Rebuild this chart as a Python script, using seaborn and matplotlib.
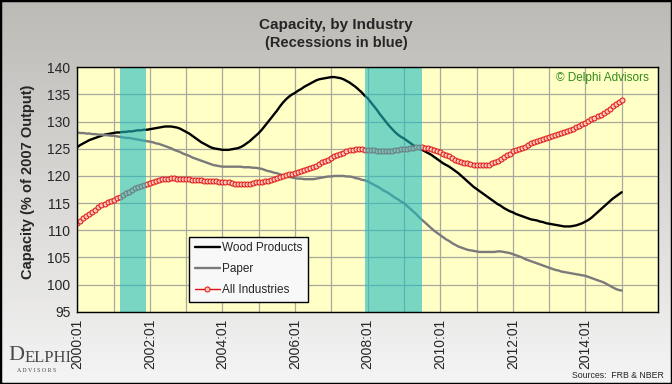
import numpy as np
import pandas as pd
import matplotlib
matplotlib.use("Agg")
import matplotlib.pyplot as plt
import seaborn as sns
from matplotlib.patches import Rectangle

# ---------------- data (monthly, 2000:01 .. 2015:01) ----------------
start_year = 2000
wood_products = [
    125.3, 125.7, 126.0, 126.3, 126.6, 126.8, 127.0, 127.2, 127.4, 127.6, 127.7, 127.8,
    127.9, 128.0, 128.0, 128.1, 128.1, 128.2, 128.2, 128.3, 128.4, 128.4, 128.5, 128.5,
    128.6, 128.7, 128.8, 128.9, 129.0, 129.1, 129.1, 129.1, 129.0, 128.9, 128.7, 128.4,
    128.1, 127.8, 127.4, 127.0, 126.6, 126.2, 125.9, 125.6, 125.3, 125.1, 125.0, 124.9,
    124.8, 124.8, 124.8, 124.9, 125.0, 125.1, 125.3, 125.6, 126.0, 126.4, 126.9, 127.4,
    127.9, 128.5, 129.2, 129.9, 130.6, 131.3, 132.0, 132.8, 133.5, 134.1, 134.6, 135.0,
    135.3, 135.7, 136.0, 136.4, 136.7, 137.0, 137.3, 137.6, 137.8, 137.9, 138.0, 138.1,
    138.2, 138.2, 138.1, 138.0, 137.8, 137.5, 137.2, 136.8, 136.4, 135.9, 135.4, 134.8,
    134.3, 133.6, 132.9, 132.2, 131.4, 130.7, 130.0, 129.3, 128.7, 128.1, 127.6, 127.2,
    126.9, 126.5, 126.1, 125.7, 125.3, 125.0, 124.8, 124.5, 124.2, 123.9, 123.5, 123.1,
    122.7, 122.3, 122.0, 121.7, 121.3, 120.9, 120.5, 120.0, 119.5, 119.0, 118.5, 118.0,
    117.6, 117.2, 116.8, 116.4, 116.0, 115.6, 115.2, 114.8, 114.5, 114.1, 113.8, 113.5,
    113.3, 113.0, 112.8, 112.6, 112.4, 112.2, 112.0, 111.9, 111.8, 111.6, 111.5, 111.3,
    111.2, 111.1, 111.0, 110.9, 110.8, 110.7, 110.7, 110.7, 110.8, 110.9, 111.1, 111.3,
    111.6, 111.9, 112.3, 112.8, 113.3, 113.8, 114.3, 114.8, 115.3, 115.8, 116.2, 116.6,
    117.0,
]
paper = [
    128.0, 127.9, 127.9, 127.8, 127.8, 127.7, 127.7, 127.6, 127.6, 127.5, 127.5, 127.4,
    127.4, 127.3, 127.2, 127.1, 127.0, 127.0, 126.9, 126.8, 126.7, 126.6, 126.5, 126.4,
    126.3, 126.2, 126.0, 125.9, 125.7, 125.5, 125.3, 125.1, 124.8, 124.6, 124.4, 124.1,
    123.9, 123.7, 123.4, 123.2, 123.0, 122.8, 122.6, 122.4, 122.2, 122.0, 121.9, 121.8,
    121.7, 121.7, 121.7, 121.7, 121.7, 121.7, 121.7, 121.6, 121.6, 121.6, 121.5, 121.5,
    121.4, 121.3, 121.1, 120.9, 120.8, 120.6, 120.5, 120.3, 120.1, 120.0, 119.8, 119.7,
    119.6, 119.5, 119.5, 119.4, 119.4, 119.4, 119.4, 119.5, 119.6, 119.7, 119.8, 119.9,
    119.9, 120.0, 120.0, 120.0, 120.0, 119.9, 119.9, 119.8, 119.6, 119.5, 119.3, 119.2,
    119.0, 118.7, 118.4, 118.1, 117.8, 117.4, 117.1, 116.8, 116.4, 116.0, 115.7, 115.3,
    115.0, 114.5, 114.0, 113.5, 113.0, 112.4, 111.9, 111.4, 110.9, 110.4, 109.9, 109.5,
    109.1, 108.7, 108.3, 108.0, 107.6, 107.3, 107.0, 106.8, 106.6, 106.4, 106.3, 106.2,
    106.1, 106.0, 106.0, 106.0, 106.0, 106.0, 106.0, 106.1, 106.1, 106.0, 105.9, 105.8,
    105.6, 105.4, 105.2, 105.0, 104.7, 104.5, 104.3, 104.1, 103.9, 103.7, 103.5, 103.3,
    103.1, 102.9, 102.7, 102.6, 102.4, 102.3, 102.2, 102.1, 102.0, 101.9, 101.8, 101.7,
    101.6, 101.4, 101.2, 101.0, 100.8, 100.6, 100.4, 100.1, 99.8, 99.5, 99.2, 99.0,
    98.9,
]
all_industries = [
    111.3, 111.7, 112.2, 112.6, 113.0, 113.4, 113.8, 114.2, 114.6, 114.9, 115.2, 115.4,
    115.6, 115.9, 116.2, 116.5, 116.8, 117.1, 117.4, 117.7, 118.0, 118.2, 118.4, 118.6,
    118.7, 118.9, 119.1, 119.3, 119.4, 119.5, 119.5, 119.6, 119.6, 119.5, 119.5, 119.4,
    119.4, 119.4, 119.3, 119.3, 119.2, 119.2, 119.1, 119.1, 119.0, 119.0, 119.0, 118.9,
    118.9, 118.8, 118.8, 118.7, 118.6, 118.6, 118.5, 118.5, 118.6, 118.6, 118.7, 118.8,
    118.8, 118.9, 119.0, 119.1, 119.3, 119.4, 119.6, 119.8, 119.9, 120.1, 120.3, 120.4,
    120.5, 120.7, 120.9, 121.1, 121.3, 121.5, 121.7, 121.9, 122.2, 122.5, 122.8, 123.0,
    123.3, 123.6, 123.8, 124.1, 124.3, 124.5, 124.7, 124.8, 124.9, 124.9, 124.9, 124.8,
    124.8, 124.7, 124.7, 124.6, 124.6, 124.5, 124.5, 124.6, 124.6, 124.7, 124.8, 124.9,
    124.9, 125.0, 125.1, 125.2, 125.3, 125.3, 125.3, 125.2, 125.1, 125.0, 124.8, 124.6,
    124.4, 124.1, 123.8, 123.6, 123.3, 123.0, 122.8, 122.6, 122.4, 122.3, 122.2, 122.1,
    122.0, 122.0, 122.0, 122.0, 122.1, 122.3, 122.5, 122.8, 123.1, 123.4, 123.8, 124.1,
    124.5, 124.7, 124.9, 125.2, 125.4, 125.7, 126.0, 126.2, 126.4, 126.6, 126.8, 126.9,
    127.1, 127.3, 127.5, 127.7, 127.9, 128.1, 128.3, 128.5, 128.7, 129.0, 129.2, 129.5,
    129.8, 130.1, 130.4, 130.7, 131.0, 131.3, 131.6, 132.0, 132.4, 132.8, 133.2, 133.6,
    133.9,
]
recessions = [(2001.17, 2001.90), (2007.92, 2009.50)]
tick_years = list(range(2000, 2017))
tick_labels = [f"{y}:01" if y % 2 == 0 and y < 2016 else "" for y in tick_years]
y_ticks = list(range(95, 141, 5))

n = len(wood_products)
dates = [start_year + i / 12 for i in range(n)]
df = pd.DataFrame({"date": dates, "Wood Products": wood_products,
                   "Paper": paper, "All Industries": all_industries})

# ---------------- style ----------------
sns.set_style("white")
plt.rcParams["font.family"] = ["Liberation Sans", "DejaVu Sans"]

W, H = 672, 384
fig = plt.figure(figsize=(W / 100, H / 100), dpi=100)

# gradient background
bg = fig.add_axes([0, 0, 1, 1], zorder=-10)
t = np.linspace(0, 1, 256).reshape(-1, 1, 1)
top = np.array([0.74, 0.73, 0.71])
bot = np.array([0.96, 0.96, 0.96])
img = top * (1 - t) + bot * t
img = np.repeat(img, 4, axis=1)
bg.imshow(img, aspect="auto", extent=[0, 1, 0, 1])
bg.axis("off")

L, R, T, B = 77.3, 658, 67.3, 311.7
ax = fig.add_axes([L / W, 1 - B / H, (R - L) / W, (B - T) / H])
ax.set_facecolor("#FFFFC6")

sns.lineplot(data=df, x="date", y="Wood Products", ax=ax, color="black",
             lw=1.7, label="Wood Products", zorder=2)
sns.lineplot(data=df, x="date", y="Paper", ax=ax, color="#7a7a7a",
             lw=1.7, label="Paper", zorder=2)
sns.lineplot(data=df, x="date", y="All Industries", ax=ax, color="#E01010",
             lw=1.0, marker="o", markersize=3.6, markerfacecolor="#FFC8B8",
             markeredgecolor="#E01010", markeredgewidth=0.7,
             label="All Industries", zorder=2)

for a, b in recessions:
    ax.axvspan(a, b, color="#1EBCC0", alpha=0.6, lw=0, zorder=3)

ax.set_xlim(2000, 2016)
ax.set_ylim(95, 140)
ax.set_xticks(tick_years)
ax.set_xticklabels(tick_labels, rotation=90, fontsize=10)
ax.set_yticks(y_ticks)
ax.set_yticklabels([str(v) for v in y_ticks], fontsize=10)
ax.tick_params(axis="both", length=0, pad=5)
ax.set_xlabel("")
ax.set_ylabel("")
ax.set_axisbelow(True)
ax.grid(True, color="#a8a8a0", lw=0.9)
for s in ax.spines.values():
    s.set_color("black")
    s.set_linewidth(1.0)
    s.set_visible(True)
    s.set_zorder(5)

leg = ax.legend(loc="lower left", bbox_to_anchor=((183 - L) / (R - L), (B - 308) / (B - T)),
                fontsize=8.5, frameon=True, fancybox=False, edgecolor="black",
                facecolor="#F8F8F8", framealpha=1, handlelength=2.1,
                labelspacing=0.75, borderpad=0.5, handletextpad=0.2, numpoints=1)
leg.set_zorder(10)
leg.get_frame().set_linewidth(1.0)

ax.text(0.985, 0.955, "© Delphi Advisors", transform=ax.transAxes, ha="right",
        va="center", fontsize=8.5, color="#338A1A", zorder=6)

fig.text(0.5, 1 - 25 / H, "Capacity, by Industry", ha="center", va="center",
         fontsize=11, fontweight="bold")
fig.text(0.5, 1 - 43 / H, "(Recessions in blue)", ha="center", va="center",
         fontsize=10.5, fontweight="bold")
fig.text(28 / W, 1 - 182 / H, "Capacity (% of 2007 Output)", rotation=90,
         ha="center", va="center", fontsize=10.5, fontweight="bold")
fig.text(664 / W, 1 - 375 / H, "Sources:  FRB & NBER", ha="right", va="center",
         fontsize=6.3)

# logo
fig.text(8 / W, 1 - 356 / H, "D", family="Liberation Serif", fontsize=16,
         color="#4a4a4a", va="center", ha="left")
fig.text(25 / W, 1 - 358 / H, "ELPHI", family="Liberation Serif", fontsize=12,
         color="#4a4a4a", va="center", ha="left")
fig.text(37 / W, 1 - 371 / H, "A D V I S O R S", family="Liberation Serif",
         fontsize=4.2, color="#4a4a4a", va="center", ha="center")

fig.patches.append(Rectangle((0, 0), 1, 1, transform=fig.transFigure, fill=False,
                             edgecolor="black", lw=2.5, zorder=20))

fig.savefig("out.png", dpi=100)
